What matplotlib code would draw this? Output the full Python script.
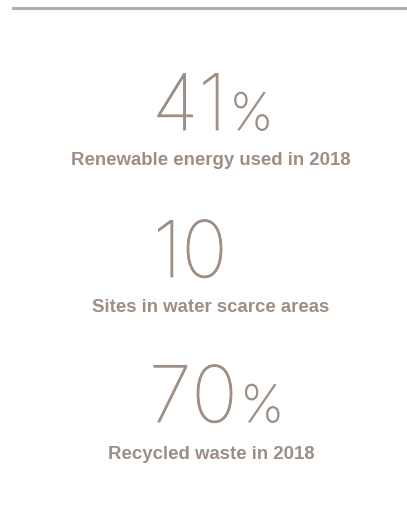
import matplotlib
matplotlib.use("Agg")
import matplotlib.pyplot as plt
import matplotlib.patheffects as pe

# Data
values = ["41", "10", "70"]
suffixes = ["%", "", "%"]
labels = ["Renewable energy used in 2018", "Sites in water scarce areas", "Recycled waste in 2018"]

W, H = 407, 510
DPI = 100
fig = plt.figure(figsize=(W / DPI, H / DPI), dpi=DPI)
fig.patch.set_facecolor("white")

text_color = "#9e8e84"
line_color = "#b8aca3"

def fx(x):
    return x / W

def fy(y):
    return 1 - y / H

fig.add_artist(plt.Line2D([fx(13), fx(407)], [fy(8.5), fy(8.5)], color=line_color, lw=2.2))

num_font = dict(family="Inter", weight=100)
lab_font = dict(family="Liberation Sans", weight="bold")
thicken = [pe.withStroke(linewidth=0.7, foreground=text_color)]

num_baselines = [131, 278, 423]
num_left = [152, 153, 149]
lab_baselines = [165, 312, 459]

fig.canvas.draw()
renderer = fig.canvas.get_renderer()
for v, s, lab, nb, nl, lb in zip(values, suffixes, labels, num_baselines, num_left, lab_baselines):
    t = fig.text(fx(nl), fy(nb), v, ha="left", va="baseline", fontsize=56,
                 color=text_color, path_effects=thicken, **num_font)
    if s:
        bb = t.get_window_extent(renderer=renderer)
        fig.text(bb.x1 / W + fx(3), fy(nb), s, ha="left", va="baseline", fontsize=37,
                 color=text_color, path_effects=thicken, **num_font)
    fig.text(fx(211), fy(lb), lab, ha="center", va="baseline", fontsize=13.4,
             color=text_color, **lab_font)

fig.savefig("out.png", dpi=DPI, facecolor="white")
